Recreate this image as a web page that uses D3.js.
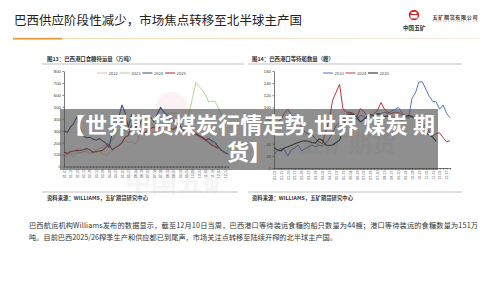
<!DOCTYPE html>
<html>
<head>
<meta charset="utf-8">
<script src="https://cdn.jsdelivr.net/npm/d3@7"></script>
<style>
  body { margin: 0; background: #fff; }
  svg { display: block; font-family: "Noto Sans CJK SC", "Noto Sans", sans-serif; }
</style>
</head>
<body>
<div id="chart"></div>
<script>
// =====================================
// DATA
// =====================================

const weekLabels = ["01-01","01-15","01-29","02-12","02-26","03-12","03-26","04-09","04-23","05-07","05-21","06-04","06-18",
  "07-02","07-16","07-30","08-13","08-27","09-10","09-24","10-08","10-22","11-05","11-19","12-03","12-17"];

// Fig 13: sugar waiting at Brazil ports (10k t)
const stockYears = ["2022", "2023", "2024", "2025"];
const stock2022 = [110,100,120,105,125,115,130,120,110,125,115,130,100,95,110,130,155,170,190,215,200,210,185,220,320,260,
  280,300,270,310,290,330,300,320,340,310,290,300,330,310,280,260,240,230,250,220,200,180,150,130,110,100];
const stock2023 = [70,95,110,78,110,115,120,135,110,120,135,150,160,185,195,220,265,305,320,300,280,300,290,320,310,330,
  350,360,340,380,400,420,435,450,445,450,430,410,390,460,580,705,670,640,600,540,550,545,490,430,400,350];
const stock2024 = [300,285,330,360,415,320,260,240,245,230,220,235,215,195,160,280,350,410,515,450,330,435,360,310,380,430,
  420,410,375,440,495,460,430,400,385,365,345,310,280,290,285,280,260,240,220,235,215,200,165,135,120,105];
const stock2025 = [120,110,125,130,135,135,140,150,140,120,125,130,135,160,185,140,160,175,200,245,260,345,330,300,290,280,
  300,320,330,310,340,350,330,320,310,330,320,300,290,300,280,270,255,245,225,200,180,165,151];
const stockTicks = [0,100,200,300,400,500,600,700,800];

// Fig 14: ships waiting at Brazil ports
const shipYears = ["2023", "2024", "2025"];
const ships2023 = [23,28,32,30,20,30,33,38,28,32,35,38,35,38,36,41,48,58,70,75,80,88,92,87,80,87,
  85,79,82,85,88,90,92,90,94,96,100,92,84,82,115,124,142,142,130,118,110,109,97,104,90,83];
const ships2024 = [72,76,80,90,97,88,82,76,68,59,56,55,48,43,40,60,80,112,125,138,97,92,92,90,84,98,
  93,86,84,90,95,108,97,92,90,92,92,88,87,85,84,80,77,74,68,60,53,57,58,50,43,45];
const ships2025 = [33,30,28,33,35,37,40,42,44,45,44,42,41,48,46,38,37,38,42,46,62,85,89,88,84,76,
  80,85,88,86,90,88,85,86,84,83,82,79,84,87,85,81,78,71,60,54,51,44];
const shipTicks = [0,20,40,60,80,100,120,140,160];

// =====================================
// SVG
// =====================================

const W = 500, H = 281;
const svg = d3.select("#chart").append("svg")
  .attr("width", W).attr("height", H)
  .attr("viewBox", `0 0 ${W} ${H}`);

svg.append("rect").attr("width", W).attr("height", H).attr("fill", "#fff");

// Header
svg.append("text")
  .attr("x", 14).attr("y", 24.5)
  .attr("font-size", 12.5)
  .attr("fill", "#222")
  .attr("textLength", 288)
  .text("巴西供应阶段性减少，市场焦点转移至北半球主产国");

const grad = svg.append("defs").append("linearGradient").attr("id", "hl");
grad.append("stop").attr("offset", "0%").attr("stop-color", "#f2c9a0");
grad.append("stop").attr("offset", "100%").attr("stop-color", "#f8e6d3");

svg.append("rect").attr("x", 13).attr("y", 38.2).attr("width", 466).attr("height", 0.8).attr("fill", "url(#hl)");
svg.append("rect").attr("x", 13).attr("y", 37.8).attr("width", 49).attr("height", 1.8).attr("fill", "#e99a3a");

// Logo
const logo = svg.append("g");
logo.append("circle").attr("cx", 414).attr("cy", 15).attr("r", 5.2).attr("fill", "#d6282e");
logo.append("rect").attr("x", 410.5).attr("y", 15).attr("width", 7).attr("height", 3.4).attr("fill", "#fff");
logo.append("rect").attr("x", 411.5).attr("y", 12).attr("width", 5).attr("height", 2).attr("fill", "#fff");
logo.append("text").attr("x", 403).attr("y", 29.5).attr("font-size", 5.6).attr("font-weight", 700)
  .attr("fill", "#333").text("中国五矿");
logo.append("text").attr("x", 432.5).attr("y", 19).attr("font-size", 5).attr("font-weight", 700)
  .attr("fill", "#333").attr("textLength", 45).text("五矿期货有限公司");
logo.append("text").attr("x", 432.5).attr("y", 22.2).attr("font-size", 1.8)
  .attr("fill", "#777").attr("textLength", 45).text("MINMETALS FUTURES CO.,LTD");

// =====================================
// CHART HELPER
// =====================================

function panel(opt) {
  const g = svg.append("g");

  g.append("text")
    .attr("x", opt.titleX).attr("y", 60.5)
    .attr("font-size", 5.4).attr("font-weight", 700).attr("fill", "#333")
    .text(opt.title);

  g.append("line")
    .attr("x1", opt.ruleX[0]).attr("x2", opt.ruleX[1])
    .attr("y1", 64).attr("y2", 64)
    .attr("stroke", "#999").attr("stroke-width", 0.6);

  const x = d3.scaleLinear().domain([0, 51]).range(opt.xRange);
  const y = d3.scaleLinear().domain(opt.yDomain).range(opt.yRange);

  // y axis
  const ya = g.append("g")
    .attr("transform", `translate(${opt.xRange[0]},0)`)
    .call(d3.axisLeft(y).tickValues(opt.yTicks).tickSize(1.5).tickSizeOuter(0).tickPadding(1.5));
  ya.selectAll("text").attr("font-size", 4.3).attr("fill", "#333");

  // x axis
  const xa = g.append("g")
    .attr("transform", `translate(0,${opt.yRange[0]})`)
    .call(d3.axisBottom(x)
      .tickValues(d3.range(52))
      .tickSize(1.6)
      .tickSizeOuter(0)
      .tickFormat(i => i % 2 === 0 ? weekLabels[i / 2] : ""));
  xa.selectAll("text")
    .attr("font-size", 3.6).attr("fill", "#555")
    .attr("transform", "rotate(-90)")
    .attr("text-anchor", "end")
    .attr("x", -2.6).attr("y", 0).attr("dy", "0.35em");

  g.selectAll(".domain, .tick line").attr("stroke", "#222").attr("stroke-width", 0.6);

  // lines
  const line = d3.line().x((d, i) => x(i)).y(d => y(d));
  opt.series.forEach((s, k) => {
    g.append("path")
      .datum(s)
      .attr("fill", "none")
      .attr("stroke", opt.colors[k])
      .attr("stroke-width", opt.widths[k])
      .attr("stroke-linejoin", "round")
      .attr("d", line);
  });

  // legend
  opt.years.forEach((yr, k) => {
    const lx = opt.legendX + k * opt.legendStep;
    g.append("line")
      .attr("x1", lx).attr("x2", lx + 10)
      .attr("y1", 73).attr("y2", 73)
      .attr("stroke", opt.colors[k]).attr("stroke-width", 1);
    g.append("text")
      .attr("x", lx + 11.5).attr("y", 74.5)
      .attr("font-size", 4.2).attr("fill", "#444")
      .text(yr);
  });

  // footer
  g.append("line")
    .attr("x1", opt.ruleX[0]).attr("x2", opt.footRuleEnd)
    .attr("y1", 192).attr("y2", 192)
    .attr("stroke", "#999").attr("stroke-width", 0.6);
  g.append("text")
    .attr("x", opt.titleX).attr("y", 200)
    .attr("font-size", 5.3).attr("font-weight", 700).attr("fill", "#333")
    .attr("textLength", 101)
    .text("资料来源：WILLIAMS，五矿期货研究中心");

  return g;
}

// watermarks (faint)
svg.append("circle").attr("cx", 172).attr("cy", 108).attr("r", 16)
  .attr("fill", "#d6282e").attr("opacity", 0.06);
svg.append("text").attr("x", 125).attr("y", 192).attr("font-size", 26).attr("font-weight", 700)
  .attr("fill", "#000").attr("opacity", 0.035).text("中国五矿");
svg.append("text").attr("x", 300).attr("y", 152).attr("font-size", 24).attr("font-weight", 700)
  .attr("fill", "#000").attr("opacity", 0.05).text("五矿期货");

panel({
  title: "图13：巴西港口食糖待运量（万吨）",
  titleX: 47,
  ruleX: [42, 244],
  footRuleEnd: 238,
  xRange: [64, 228],
  yDomain: [0, 800],
  yRange: [166.5, 71],
  yTicks: stockTicks,
  years: stockYears,
  series: [stock2022, stock2023, stock2024, stock2025],
  colors: ["#f3b7bb", "#a6d08a", "#2d4a8a", "#a8262d"],
  widths: [0.9, 0.9, 1.1, 1.1],
  legendX: 97,
  legendStep: 22.7
});

panel({
  title: "图14：巴西港口等待船数量（艘）",
  titleX: 252,
  ruleX: [248, 462],
  footRuleEnd: 462,
  xRange: [274, 450],
  yDomain: [0, 160],
  yRange: [168, 71],
  yTicks: shipTicks,
  years: shipYears,
  series: [ships2023, ships2024, ships2025],
  colors: ["#4f78c0", "#c5343c", "#1a1a1a"],
  widths: [1, 1, 1.1],
  legendX: 323,
  legendStep: 22.5
});

// =====================================
// BANNER OVERLAY
// =====================================

svg.append("rect")
  .attr("x", 60).attr("y", 109).attr("width", 378).attr("height", 61)
  .attr("fill", "#4a4a4a").attr("opacity", 0.62);

const banner = svg.append("text")
  .attr("text-anchor", "middle")
  .attr("font-size", 22).attr("font-weight", 700)
  .attr("fill", "#fff");
banner.append("tspan").attr("x", 249).attr("y", 132.5).attr("textLength", 372)
  .text("【世界期货煤炭行情走势,世界 煤炭 期");
banner.append("tspan").attr("x", 249).attr("y", 159.5).text("货】");

// =====================================
// BODY TEXT
// =====================================

svg.append("text")
  .attr("x", 29).attr("y", 227.6)
  .attr("font-size", 7.2).attr("fill", "#333")
  .attr("textLength", 449)
  .text("巴西航运机构Williams发布的数据显示，截至12月10日当周，巴西港口等待装运食糖的船只数量为44艘；港口等待装运的食糖数量为151万");
svg.append("text")
  .attr("x", 29).attr("y", 240.3)
  .attr("font-size", 7.2).attr("fill", "#333")
  .attr("textLength", 308)
  .text("吨。目前巴西2025/26榨季生产和供应都已到尾声，市场关注点转移至陆续开榨的北半球主产国。");
</script>
</body>
</html>
